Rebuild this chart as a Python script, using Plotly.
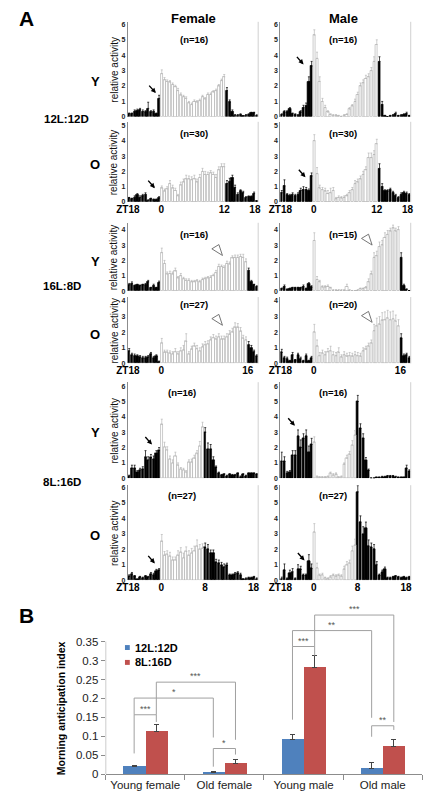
import plotly.graph_objects as go

W, H = 434, 809
FONT = "Liberation Sans, Arial, sans-serif"

# ---------------- Panel A data: 48 half-hour bins from ZT18 to ZT18 ----------------
# each list: 12 bins of night before ZT0, light bins, then the rest of the night
f12_y = [0.2,0.2,0.35,0.4,0.45,0.35,0.3,0.55,0.3,0.35,0.2,1.2,
         2.8,2.4,2.3,2.25,2.1,1.95,1.7,1.4,1.3,1.2,0.9,0.8,1.0,0.95,1.05,1.3,1.15,1.45,1.45,1.6,1.7,2.0,2.35,2.6,
         1.7,0.95,0.35,0.1,0.1,0.15,0.05,0.1,0.15,0.25,0.25,0.1]
f12_y_err = [0.05,0.05,0.1,0.1,0.1,0.1,0.1,0.4,0.1,0.1,0.05,0.2,
             0.25,0.15,0.1,0.1,0.1,0.1,0.15,0.15,0.1,0.1,0.1,0.1,0.1,0.1,0.1,0.1,0.1,0.1,0.1,0.1,0.1,0.1,0.1,0.15,
             0.2,0.15,0.1,0.05,0.05,0.05,0.03,0.05,0.05,0.05,0.05,0.03]
m12_y = [0.15,0.3,0.3,0.5,0.2,0.15,0.1,0.3,0.6,0.7,2.3,3.3,
         5.3,3.8,2.3,1.0,0.6,0.3,0.15,0.1,0.1,0.05,0.0,0.1,0.15,0.5,0.7,1.0,1.45,2.0,2.2,2.5,2.6,3.0,3.6,4.7,
         3.6,0.8,0.05,0.0,0.05,0.1,0.2,0.05,0.1,0.15,0.2,0.05]
m12_y_err = [0.05,0.1,0.1,0.1,0.05,0.05,0.05,0.1,0.15,0.2,0.3,0.3,
             0.35,0.4,0.3,0.2,0.15,0.1,0.05,0.05,0.05,0.05,0.05,0.05,0.05,0.1,0.1,0.15,0.15,0.2,0.2,0.2,0.2,0.2,0.3,0.3,
             0.3,0.2,0.05,0.02,0.05,0.05,0.1,0.05,0.05,0.05,0.1,0.05]
f12_o = [0.25,0.2,0.3,0.45,0.3,0.4,0.5,0.1,0.2,0.15,0.15,0.25,
         0.9,0.7,0.85,1.2,0.9,0.75,0.4,1.1,1.3,1.5,1.5,1.45,1.5,1.3,1.6,2.0,1.8,1.8,1.9,1.8,1.6,2.1,2.3,2.3,
         1.2,1.35,1.55,0.95,0.5,0.7,0.6,0.3,0.35,0.35,0.55,0.05]
f12_o_err = [0.05,0.05,0.1,0.1,0.1,0.1,0.1,0.05,0.05,0.05,0.05,0.1,
             0.15,0.15,0.15,0.2,0.2,0.15,0.1,0.2,0.2,0.25,0.2,0.2,0.25,0.2,0.2,0.2,0.2,0.15,0.15,0.15,0.2,0.2,0.2,0.2,
             0.2,0.2,0.2,0.15,0.1,0.1,0.1,0.05,0.05,0.05,0.1,0.02]
m12_o = [0.6,1.05,0.45,0.4,0.5,0.4,0.5,0.75,0.8,0.8,0.75,1.7,
         4.0,1.85,0.9,0.8,0.7,0.55,0.6,0.75,0.2,0.3,0.25,0.3,0.4,0.6,0.8,1.2,1.3,1.5,1.8,2.1,2.9,2.9,3.1,3.8,
         2.2,1.0,0.7,0.7,0.8,0.6,0.4,0.3,0.5,0.6,0.55,0.45]
m12_o_err = [0.15,0.4,0.1,0.1,0.1,0.1,0.1,0.15,0.2,0.15,0.1,0.2,
             0.4,0.4,0.2,0.15,0.2,0.2,0.3,0.2,0.1,0.1,0.1,0.1,0.1,0.15,0.15,0.2,0.2,0.2,0.2,0.2,0.3,0.3,0.25,0.3,
             0.3,0.2,0.1,0.1,0.1,0.1,0.1,0.05,0.1,0.1,0.1,0.1]
f16_y = [0.4,0.5,0.35,0.4,0.35,0.4,0.4,0.6,0.2,0.35,0.2,0.55,
         2.5,1.8,1.1,1.15,1.1,1.3,0.85,1.0,0.8,0.7,0.7,0.6,0.6,0.65,0.6,0.75,0.8,0.85,0.9,1.0,
         1.2,1.6,1.6,1.55,1.8,1.75,2.15,2.2,2.2,2.25,2.2,1.9,
         1.35,0.6,0.4,0.3]
f16_y_err = [0.1,0.1,0.05,0.05,0.05,0.05,0.1,0.1,0.05,0.1,0.05,0.1,
             0.3,0.2,0.15,0.15,0.15,0.2,0.1,0.15,0.1,0.1,0.1,0.1,0.1,0.1,0.1,0.1,0.1,0.1,0.1,0.1,
             0.15,0.15,0.1,0.1,0.15,0.15,0.15,0.15,0.15,0.15,0.2,0.2,
             0.15,0.1,0.05,0.05]
m16_y = [0.15,0.3,0.1,0.15,0.2,0.2,0.2,0.2,0.3,0.15,0.45,0.25,
         3.3,0.75,0.6,0.25,0.25,0.3,0.2,0.05,0.05,0.05,0.05,0.05,0.3,0.05,0.0,0.0,0.05,0.15,0.15,0.2,
         0.6,1.1,2.2,2.3,2.9,3.0,3.5,3.7,3.9,4.1,3.9,4.0,
         2.2,0.35,0.1,0.02]
m16_y_err = [0.05,0.1,0.05,0.05,0.05,0.05,0.05,0.05,0.1,0.05,0.1,0.1,
             0.5,0.2,0.1,0.1,0.1,0.1,0.05,0.05,0.05,0.05,0.05,0.05,0.15,0.05,0.02,0.02,0.05,0.05,0.05,0.1,
             0.2,0.2,0.3,0.3,0.3,0.3,0.3,0.25,0.2,0.2,0.2,0.2,
             0.3,0.1,0.05,0.02]
f16_o = [0.8,0.55,0.5,0.45,0.4,0.35,0.35,0.4,0.6,0.35,0.45,0.1,
         1.3,0.7,0.7,0.65,0.6,0.75,0.6,0.8,0.85,1.4,0.6,0.9,1.1,0.95,0.8,1.05,1.2,1.25,1.5,1.65,
         1.55,1.7,1.55,1.55,1.7,1.85,2.0,2.3,2.3,2.05,1.6,1.5,
         1.2,1.0,0.75,0.45]
f16_o_err = [0.15,0.1,0.1,0.1,0.1,0.1,0.1,0.1,0.1,0.1,0.1,0.05,
             0.3,0.15,0.15,0.15,0.15,0.2,0.15,0.2,0.3,0.5,0.15,0.2,0.2,0.2,0.2,0.2,0.2,0.2,0.2,0.2,
             0.2,0.2,0.2,0.2,0.2,0.25,0.25,0.3,0.25,0.25,0.2,0.2,
             0.2,0.15,0.1,0.1]
m16_o = [0.7,0.35,0.3,0.15,0.55,0.2,0.55,0.3,0.15,0.5,0.15,0.35,
         2.0,1.1,0.5,0.65,0.55,0.75,0.8,0.55,0.5,0.7,0.4,0.55,0.45,0.5,0.45,0.55,0.5,0.45,0.8,0.9,
         1.1,1.3,2.1,2.4,2.5,2.75,2.8,2.9,2.8,2.85,2.7,2.4,
         1.6,0.5,0.55,0.35]
m16_o_err = [0.2,0.1,0.1,0.05,0.15,0.05,0.1,0.1,0.05,0.1,0.05,0.1,
             0.5,0.4,0.2,0.2,0.2,0.2,0.3,0.2,0.2,0.3,0.15,0.2,0.2,0.2,0.2,0.2,0.2,0.2,0.2,0.2,
             0.2,0.2,0.4,0.5,0.5,0.5,0.5,0.5,0.5,0.5,0.4,0.4,
             0.3,0.1,0.1,0.1]
f8_y = [0.15,0.65,0.65,0.4,0.55,0.6,1.4,1.2,1.35,1.25,1.6,1.8,
        3.5,2.05,1.85,1.25,1.0,1.45,0.85,0.6,0.55,0.4,1.05,1.05,1.3,1.6,2.1,3.35,
        3.0,1.9,1.9,1.2,0.7,0.35,0.2,0.25,0.15,0.25,0.2,0.2,0.3,0.1,0.25,0.15,0.3,0.3,0.3,0.25]
f8_y_err = [0.05,0.2,0.2,0.1,0.1,0.15,0.4,0.2,0.2,0.2,0.2,0.2,
            0.35,0.3,0.2,0.2,0.2,0.25,0.15,0.1,0.1,0.1,0.15,0.2,0.2,0.2,0.3,0.3,
            0.3,0.4,0.3,0.2,0.1,0.05,0.05,0.05,0.05,0.05,0.05,0.05,0.05,0.05,0.05,0.05,0.05,0.05,0.05,0.05]
m8_y = [1.1,1.1,0.35,0.4,1.5,1.5,2.75,2.0,2.6,2.75,1.7,2.2,
        2.35,0.1,0.05,0.05,0.05,0.1,0.3,0.2,0.25,0.05,0.1,0.9,1.3,1.55,2.15,2.8,
        5.0,3.25,2.6,1.15,0.5,0.0,0.0,0.05,0.05,0.1,0.1,0.15,0.15,0.15,0.1,0.05,0.05,0.05,0.65,0.45]
m8_y_err = [0.6,0.3,0.1,0.1,0.3,0.3,0.4,0.5,0.3,0.4,0.4,0.4,
            0.35,0.05,0.05,0.05,0.05,0.05,0.1,0.1,0.1,0.05,0.05,0.1,0.2,0.2,0.3,0.3,
            0.4,0.3,0.3,0.2,0.1,0.0,0.0,0.02,0.02,0.03,0.03,0.03,0.03,0.03,0.03,0.02,0.02,0.02,0.2,0.1]
f8_o = [0.25,0.4,0.25,0.05,0.2,0.15,0.25,0.2,0.4,0.35,0.6,0.65,
        2.5,1.6,1.65,1.55,1.3,1.3,1.6,1.8,1.45,1.85,1.6,1.75,1.9,2.2,2.0,2.05,
        2.1,2.0,1.75,1.75,1.15,1.1,0.95,0.85,0.95,0.3,0.3,0.4,0.45,0.35,0.05,0.1,0.15,0.15,0.2,0.1]
f8_o_err = [0.1,0.1,0.05,0.02,0.05,0.05,0.05,0.05,0.1,0.1,0.1,0.1,
            0.45,0.25,0.25,0.25,0.2,0.2,0.3,0.3,0.3,0.3,0.3,0.3,0.3,0.4,0.3,0.3,
            0.3,0.3,0.2,0.2,0.2,0.2,0.2,0.2,0.15,0.1,0.1,0.1,0.1,0.1,0.05,0.05,0.05,0.05,0.05,0.05]
m8_o = [0.1,0.65,0.1,0.45,0.55,0.1,0.7,0.7,0.3,0.3,1.25,0.75,
        3.1,0.8,0.3,0.35,0.15,0.1,0.2,0.3,0.25,0.3,0.25,0.7,1.0,1.1,1.9,2.25,
        5.7,3.75,2.95,3.35,2.2,2.1,2.0,1.0,0.3,0.5,0.7,0.15,0.15,0.2,0.25,0.2,0.15,0.2,0.15,0.2]
m8_o_err = [0.1,0.4,0.05,0.2,0.2,0.05,0.3,0.2,0.1,0.1,0.4,0.3,
            0.55,0.3,0.1,0.1,0.05,0.05,0.1,0.1,0.1,0.1,0.1,0.2,0.2,0.2,0.3,0.4,
            0.4,0.4,0.5,0.4,0.4,0.3,0.3,0.2,0.1,0.15,0.15,0.05,0.05,0.05,0.05,0.05,0.05,0.05,0.05,0.05]

n_labels = ["(n=16)", "(n=16)", "(n=30)", "(n=30)", "(n=16)", "(n=15)",
            "(n=27)", "(n=20)", "(n=16)", "(n=16)", "(n=27)", "(n=27)"]
light_hours = {"12L:12D": 12, "16L:8D": 16, "8L:16D": 8}
zt_ticks = {"12L:12D": ([0, 12.3, 35.5, 46.8], ["ZT18", "0", "12", "18"]),
            "16L:8D": ([0, 12.3, 44.2], ["ZT18", "0", "16"]),
            "8L:16D": ([0, 12.3, 28.4, 46.3], ["ZT18", "0", "8", "18"])}

# ---------------- Panel B data ----------------
groups = ["Young female", "Old female", "Young male", "Old male"]
mai_12L12D = [0.020, 0.005, 0.092, 0.016]
mai_12L12D_err = [0.003, 0.003, 0.014, 0.015]
mai_8L16D = [0.113, 0.029, 0.282, 0.074]
mai_8L16D_err = [0.017, 0.009, 0.032, 0.017]
b_ticks = [0, 0.05, 0.1, 0.15, 0.2, 0.25, 0.3, 0.35]
b_ticktext = ["0", "0.05", "0.1", "0.15", "0.2", "0.25", "0.3", "0.35"]
# significance brackets: (from x, to x, top, left-leg bottom, right-leg bottom, label)
brackets = [(-0.14, 0.14, 0.157, 0.055, 0.138, "***"),
            (-0.14, 0.86, 0.201, 0.157, 0.097, "*"),
            (0.14, 1.14, 0.243, 0.157, 0.091, "***"),
            (0.86, 1.14, 0.068, 0.020, 0.052, "*"),
            (1.86, 2.14, 0.337, 0.144, 0.313, "***"),
            (1.86, 2.86, 0.379, 0.337, 0.149, "**"),
            (2.14, 3.14, 0.420, 0.337, 0.138, "***"),
            (2.86, 3.14, 0.128, 0.099, 0.117, "**")]

# ---------------- layout helpers ----------------
def px(x):
    return x / W

def py(y):
    return 1 - y / H

rows = [  # top px, bottom px, y max, tick max
    (20, 116, 6.17, 6), (121, 202, 5.24, 5),
    (223, 292, 4.45, 4), (298, 365, 4.25, 4),
    (384, 481, 6.26, 6), (488, 584, 6.13, 6)]
cols = [(120, 255), (278, 413)]

panels = [
    ("12L:12D", f12_y, f12_y_err), ("12L:12D", m12_y, m12_y_err),
    ("12L:12D", f12_o, f12_o_err), ("12L:12D", m12_o, m12_o_err),
    ("16L:8D", f16_y, f16_y_err), ("16L:8D", m16_y, m16_y_err),
    ("16L:8D", f16_o, f16_o_err), ("16L:8D", m16_o, m16_o_err),
    ("8L:16D", f8_y, f8_y_err), ("8L:16D", m8_y, m8_y_err),
    ("8L:16D", f8_o, f8_o_err), ("8L:16D", m8_o, m8_o_err)]

fig = go.Figure()
layout = dict(width=W, height=H, autosize=False, margin=dict(l=0, r=0, t=0, b=0),
              paper_bgcolor="white", plot_bgcolor="white", showlegend=False,
              font=dict(family=FONT, color="black"), bargap=0)
shapes, annotations = [], []

def ann(text, x, y, size, bold=True, angle=0, color="black", xanchor="center", yanchor="middle", **kw):
    annotations.append(dict(text=text, x=px(x), y=py(y), xref="paper", yref="paper",
                            showarrow=False, textangle=angle, xanchor=xanchor, yanchor=yanchor,
                            font=dict(size=size, color=color, family=FONT,
                                      weight="bold" if bold else "normal"), **kw))

for i, (photo, vals, errs) in enumerate(panels):
    assert len(vals) == 48 and len(errs) == 48, (i, len(vals), len(errs))
    r, c = divmod(i, 2)
    top, bot, ymax, tmax = rows[r]
    x0, x1 = cols[c]
    k = i + 1
    xa, ya = ("x" if k == 1 else f"x{k}"), ("y" if k == 1 else f"y{k}")
    nlight = light_hours[photo] * 2
    is_light = [12 <= b < 12 + nlight for b in range(48)]
    xs = [b + 0.5 for b in range(48)]
    for light in (False, True):
        idx = [b for b in range(48) if is_light[b] == light]
        fig.add_trace(go.Bar(
            x=[xs[b] for b in idx], y=[vals[b] for b in idx], width=0.8,
            xaxis=xa, yaxis=ya,
            marker=dict(color="white" if light else "black",
                        line=dict(color="#a8a8a8" if light else "black", width=0.6)),
            error_y=dict(type="data", symmetric=False, array=[errs[b] for b in idx],
                         arrayminus=[0] * len(idx), color="#b8b8b8" if light else "black",
                         thickness=0.7, width=1)))
    tv, tt = zt_ticks[photo]
    bottom_row = (r % 2 == 1)
    layout["xaxis" if k == 1 else f"xaxis{k}"] = dict(
        domain=[px(x0), px(x1)], range=[0, 48], anchor=ya, showgrid=False, zeroline=False,
        showline=False, ticks="", tickvals=tv, ticktext=tt, showticklabels=bottom_row,
        tickfont=dict(size=10, family=FONT, weight="bold", color="black"))
    layout["yaxis" if k == 1 else f"yaxis{k}"] = dict(
        domain=[py(bot), py(top)], range=[0, ymax], anchor=xa, showgrid=False, zeroline=False,
        showline=True, linecolor="#8c8c8c", linewidth=1, ticks="",
        tickvals=list(range(tmax + 1)), tickfont=dict(size=7, family=FONT, weight="bold", color="#222"))
    # light grey right-hand frame line
    shapes.append(dict(type="line", xref="paper", yref="paper", x0=px(x1), x1=px(x1),
                       y0=py(bot), y1=py(top), line=dict(color="#d0d0d0", width=1)))
    ncx = (188 if c == 0 else 343) if r < 4 else (176 if c == 0 else 333)
    ann(n_labels[i], ncx, top + (18 if r == 0 else 12 if r < 3 else 8 if r < 4 else 10), 9.5)
    if c == 0:
        ann("relative activity", 106, (top + bot) / 2, 10, bold=False, angle=-90, color="#111")
        ann("Y" if r % 2 == 0 else "O", 86, [80, 164, 262, 336, 435, 539][r], 13)

# black arrows (head position, tail offset)
arrows = [(149, 92), (302, 63), (148, 188), (304, 177), (145, 447), (293, 428), (148, 567), (303, 564)]
for hx, hy in arrows:
    annotations.append(dict(x=px(hx), y=py(hy), xref="paper", yref="paper", text="",
                            showarrow=True, ax=-8, ay=-9, arrowhead=2, arrowsize=0.7,
                            arrowwidth=1.4, arrowcolor="black"))
# open triangles (tip positions)
for tx, ty in [(218, 256), (373, 245.5), (218, 326.5), (373, 323.5)]:
    pts = [(tx, ty), (tx - 11, ty - 6.7), (tx - 3.7, ty - 11)]
    path = "M " + " L ".join(f"{px(a):.5f},{py(b):.5f}" for a, b in pts) + " Z"
    shapes.append(dict(type="path", xref="paper", yref="paper", path=path,
                       line=dict(color="#666", width=0.9), fillcolor="white"))

ann("A", 15, 17, 21)
ann("B", 15, 620, 21)
ann("Female", 188, 17, 13)
ann("Male", 343, 17, 13)
ann("12L:12D", 56, 118, 11.5)
ann("16L:8D", 52, 287, 11.5)
ann("8L:16D", 52, 485, 11.5)

# ---------------- Panel B ----------------
kb = 13
blue, red = "#4F81BD", "#C0504D"
for vals, errs, off, col, name in [(mai_12L12D, mai_12L12D_err, -0.14, blue, "12L:12D"),
                                   (mai_8L16D, mai_8L16D_err, 0.14, red, "8L:16D")]:
    fig.add_trace(go.Bar(x=[j + off for j in range(4)], y=vals, width=0.28, name=name,
                         xaxis=f"x{kb}", yaxis=f"y{kb}", marker=dict(color=col, line=dict(width=0)),
                         error_y=dict(type="data", symmetric=False, array=errs, arrayminus=[0] * 4,
                                      color="#444", thickness=1, width=2.5)))
b_top, b_bot = 611.5, 780
layout[f"xaxis{kb}"] = dict(domain=[px(97), px(425)], range=[-0.5, 3.5], anchor=f"y{kb}",
                            showgrid=False, zeroline=False, showline=True, linecolor="#8c8c8c",
                            linewidth=1, ticks="", tickvals=list(range(4)), ticktext=groups,
                            tickfont=dict(size=11.5, family=FONT, color="#222"),
                            minor=dict(tick0=-0.5, dtick=1, ticks="outside", ticklen=5,
                                       tickcolor="#8c8c8c", showgrid=False))
layout[f"yaxis{kb}"] = dict(domain=[py(b_bot), py(b_top)], range=[0, 0.44], anchor=f"x{kb}",
                            showgrid=False, zeroline=False, showline=False, ticks="outside",
                            ticklen=4, tickcolor="#8c8c8c", tickvals=b_ticks, ticktext=b_ticktext,
                            tickfont=dict(size=11.5, family=FONT, color="#222"))
shapes.append(dict(type="line", xref=f"x{kb}", yref=f"y{kb}", x0=-0.5, x1=-0.5, y0=0, y1=0.35,
                   line=dict(color="#8c8c8c", width=1)))
for xa_, xb_, top, lb, rb, lab in brackets:
    path = f"M {xa_},{lb} L {xa_},{top} L {xb_},{top} L {xb_},{rb}"
    shapes.append(dict(type="path", xref=f"x{kb}", yref=f"y{kb}", path=path,
                       line=dict(color="#a0a0a0", width=1)))
    annotations.append(dict(text=lab, x=(xa_ + xb_) / 2, y=top, xref=f"x{kb}", yref=f"y{kb}",
                            showarrow=False, yanchor="bottom", yshift=-1,
                            font=dict(size=9, color="#555", family=FONT)))
ann("Morning anticipation index", 51, 713, 10.5, angle=-90)
for (yy, col, name) in [(652, blue, "12L:12D"), (667, red, "8L:16D")]:
    shapes.append(dict(type="rect", xref="paper", yref="paper", x0=px(117), x1=px(122),
                       y0=py(yy + 2.5), y1=py(yy - 2.5), fillcolor=col, line=dict(width=0)))
    ann(name, 125, yy, 11, xanchor="left")

layout["shapes"] = shapes
layout["annotations"] = annotations
fig.update_layout(**layout)
fig.write_html("out.html",
               config={"displayModeBar": False, "staticPlot": False},
               post_script="document.body.style.margin='0';"
                           "document.body.style.overflow='hidden';"
                           "document.documentElement.style.overflow='hidden';")
